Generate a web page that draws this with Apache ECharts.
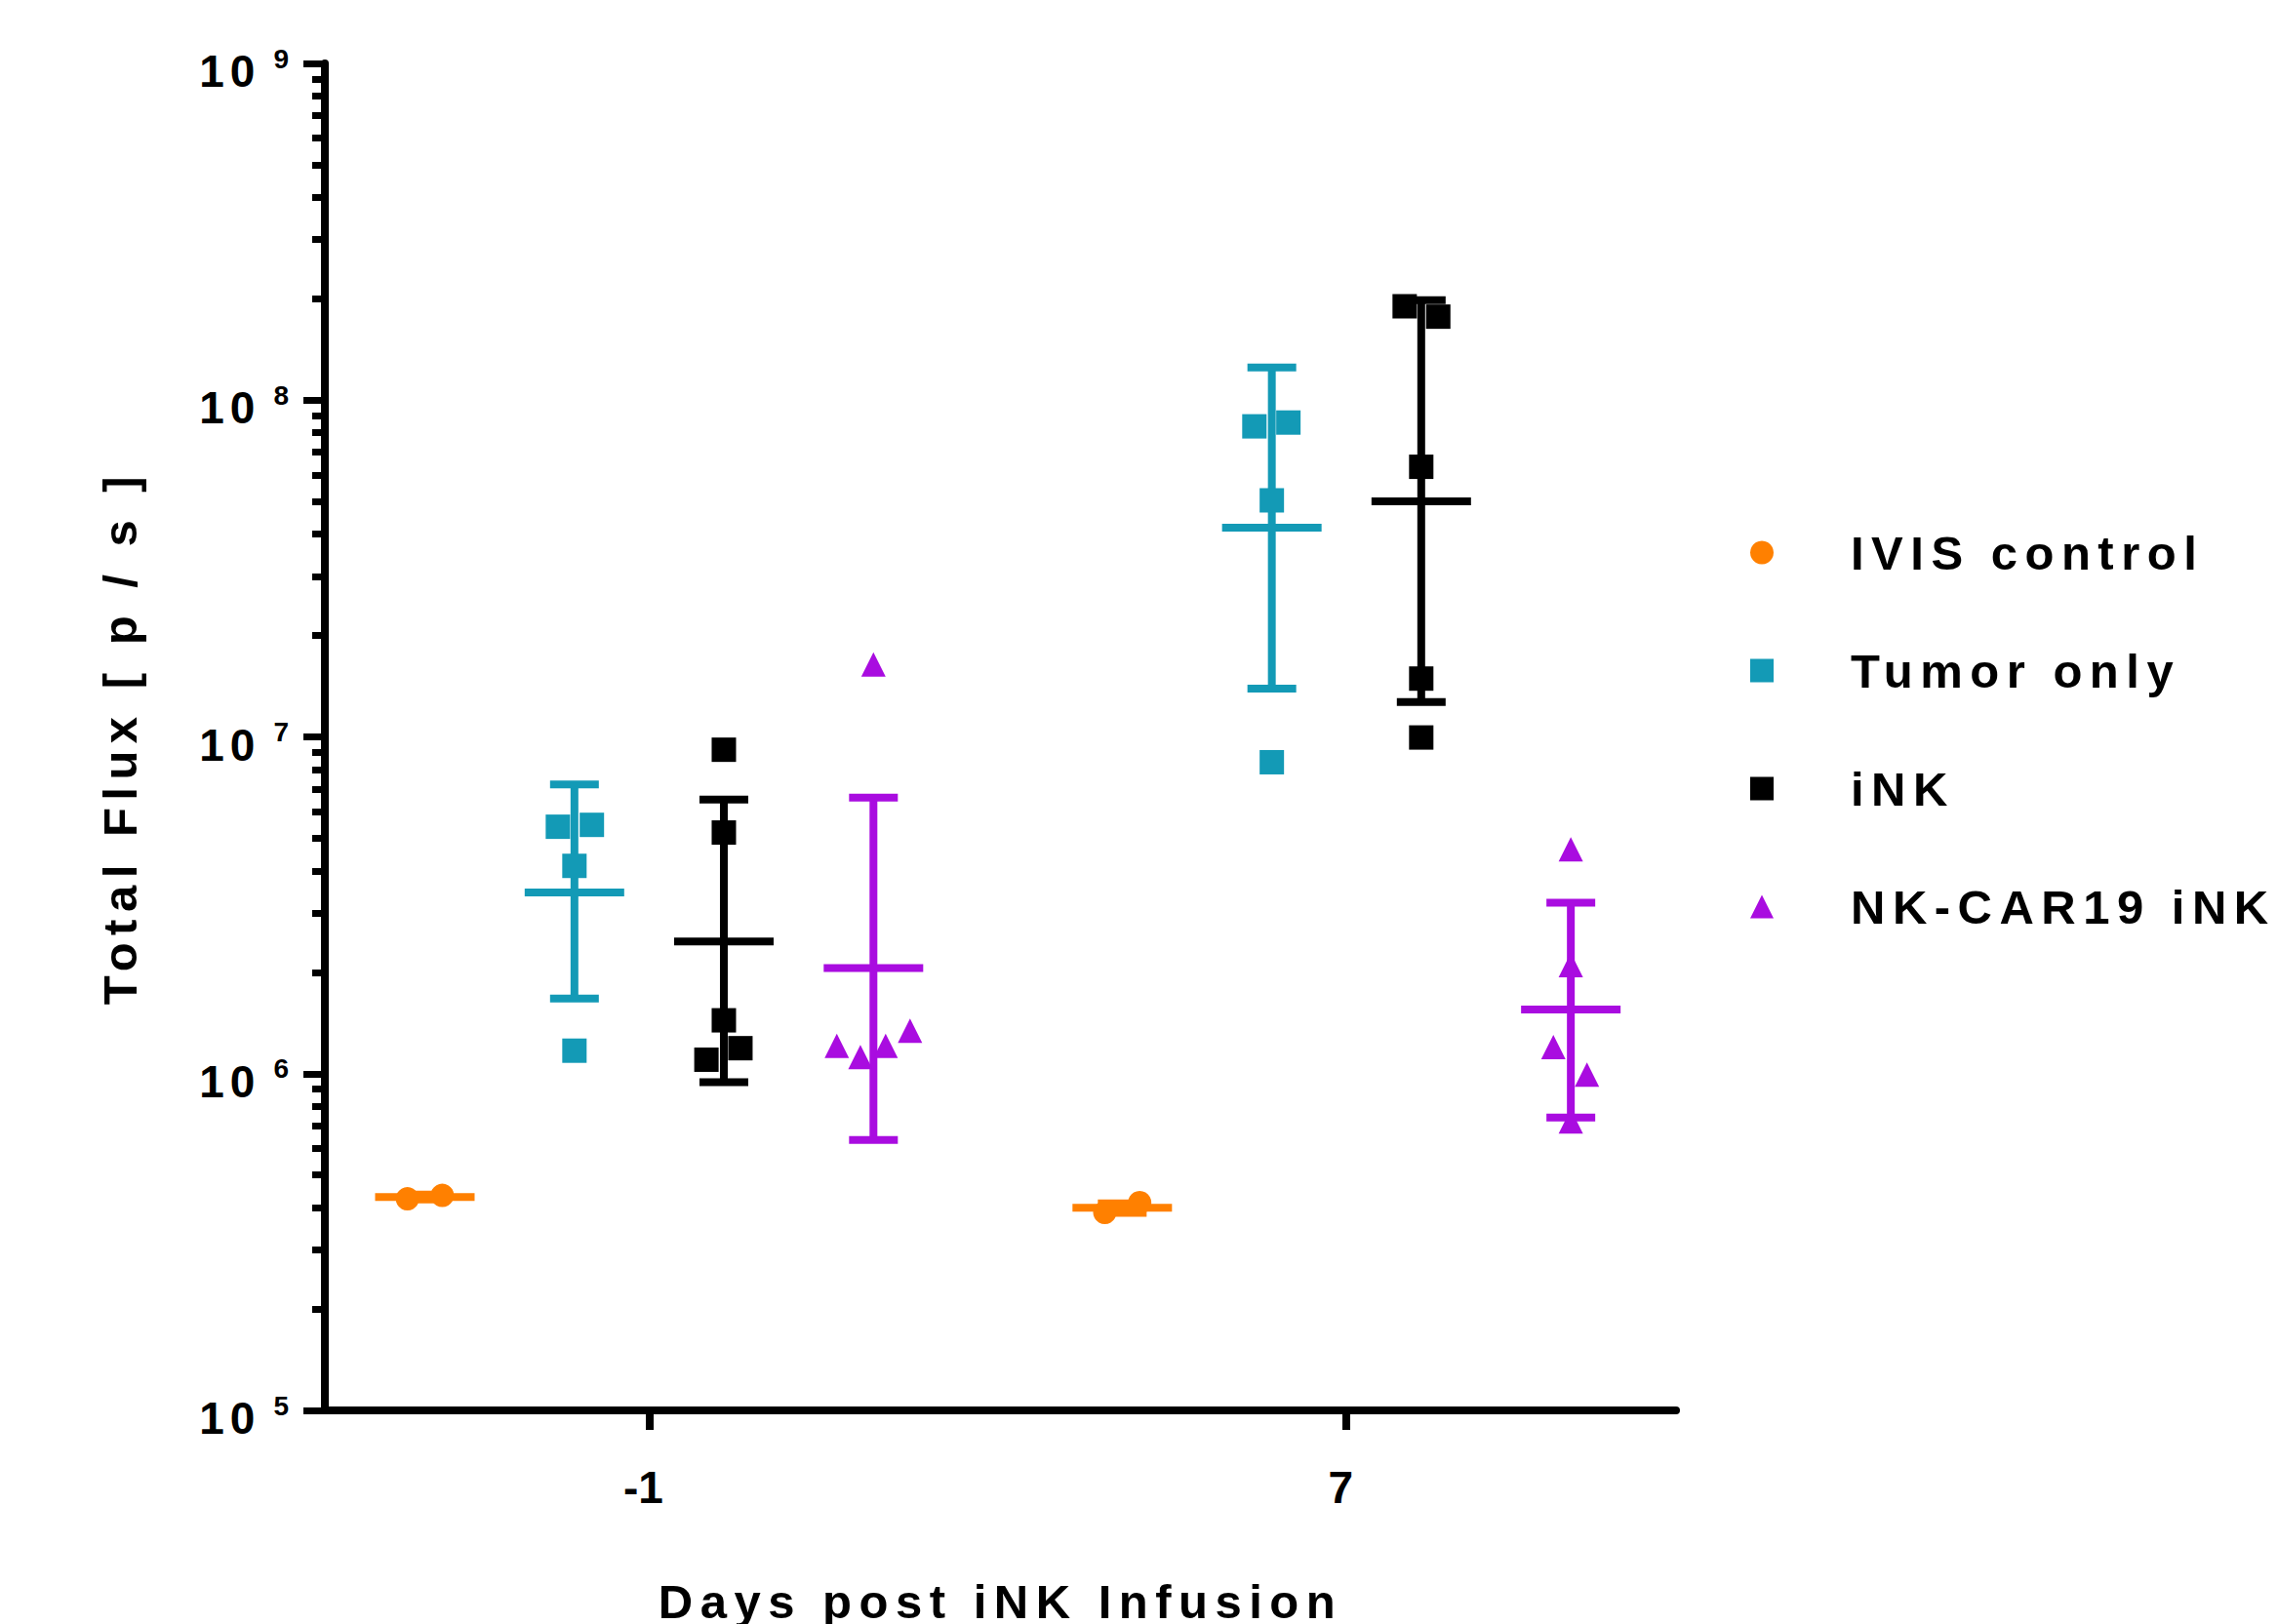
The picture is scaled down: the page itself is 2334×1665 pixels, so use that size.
<!DOCTYPE html>
<html>
<head>
<meta charset="utf-8">
<title>Total Flux</title>
<script src="https://cdn.jsdelivr.net/npm/echarts@6.0.0/dist/echarts.min.js"></script>
<style>
html, body { margin: 0; padding: 0; background: #fff; }
#main { width: 2334px; height: 1665px; }
/* the figure uses very wide letter spacing for titles and legend */
#main text[style*="49px"] { letter-spacing: 7.5px; }
</style>
</head>
<body>
<div id="main"></div>
<script>
var FONT = 'Liberation Sans, Arial, sans-serif';

/// x axis: days, y axis: decades
var days = [-1, 7];
var majorTicks = [1e5, 1e6, 1e7, 1e8, 1e9];
var minorSteps = [2, 3, 4, 5, 6, 7, 8, 9];

var groupNames = ['IVIS control', 'Tumor only', 'iNK', 'NK-CAR19 iNK'];
var groupColors = ['#FF8000', '#139AB6', '#000000', '#A90CE0'];
var groupSymbols = ['circle', 'rect', 'rect', 'triangle'];
var groupSizes = [24, 25, 25, 25];
var groupOffsets = [-2.573, -0.857, 0.857, 2.573];   // column offset inside a day

/// IVIS control
var ivisM1 = [4.25e5, 4.35e5];
var ivisM1Jit = [-0.2, 0.2];
var ivis7 = [3.87e5, 4.14e5];
var ivis7Jit = [-0.2, 0.2];
var ivisBars = [[4.30e5, 4.23e5, 4.37e5], [4.00e5, 3.86e5, 4.12e5]];   // mean, low, high

/// Tumor only
var tumorM1 = [5.41e6, 5.48e6, 4.14e6, 1.17e6];
var tumorM1Jit = [-0.19, 0.2, 0, 0];
var tumor7 = [8.36e7, 8.58e7, 5.04e7, 8.41e6];
var tumor7Jit = [-0.2, 0.19, 0, 0];
var tumorBars = [[3.45e6, 1.67e6, 7.23e6], [4.18e7, 1.39e7, 1.25e8]];

/// iNK
var inkM1 = [9.16e6, 5.2e6, 1.44e6, 1.10e6, 1.19e6];
var inkM1Jit = [0, 0, 0, -0.2, 0.19];
var ink7 = [1.90e8, 1.77e8, 6.34e7, 1.49e7, 9.96e6];
var ink7Jit = [-0.19, 0.195, 0, 0, 0];
var inkBars = [[2.47e6, 9.44e5, 6.52e6], [5.01e7, 1.27e7, 1.98e8]];

/// NK-CAR19 iNK
var carM1 = [1.64e7, 1.21e6, 1.12e6, 1.21e6, 1.34e6];
var carM1Jit = [0, -0.42, -0.15, 0.14, 0.42];
var car7 = [4.64e6, 2.10e6, 1.20e6, 9.93e5, 7.21e5];
var car7Jit = [0, 0, -0.2, 0.185, 0];
var carBars = [[2.06e6, 6.35e5, 6.6e6], [1.55e6, 7.41e5, 3.22e6]];

var groupVals = [[ivisM1, ivis7], [tumorM1, tumor7], [inkM1, ink7], [carM1, car7]];
var groupJit = [[ivisM1Jit, ivis7Jit], [tumorM1Jit, tumor7Jit], [inkM1Jit, ink7Jit], [carM1Jit, car7Jit]];
var groupBars = [ivisBars, tumorBars, inkBars, carBars];

var minorTicks = [];
for (var e = 0; e < majorTicks.length - 1; e++) {
	for (var s = 0; s < minorSteps.length; s++) {
		minorTicks.push(minorSteps[s] * majorTicks[e]);
	}
}

function buildPoints(g) {
	var out = [];
	for (var d = 0; d < days.length; d++) {
		var vals = groupVals[g][d], jit = groupJit[g][d];
		for (var i = 0; i < vals.length; i++) {
			out.push([days[d] + groupOffsets[g] + jit[i], vals[i]]);
		}
	}
	return out;
}

function buildBars(g) {
	var out = [];
	for (var d = 0; d < days.length; d++) {
		var b = groupBars[g][d];
		out.push([days[d] + groupOffsets[g], b[0], b[1], b[2]]);
	}
	return out;
}

/// mean line + SD whiskers, drawn through the axis scales
function barRenderer(color) {
	return function (params, api) {
		var x = api.value(0);
		var c = api.coord([x, api.value(1)]);
		var lo = api.coord([x, api.value(2)]);
		var hi = api.coord([x, api.value(3)]);
		function seg(x1, y1, x2, y2) {
			return { type: 'line', shape: { x1: x1, y1: y1, x2: x2, y2: y2 },
				style: { stroke: color, lineWidth: 8, fill: null } };
		}
		return { type: 'group', children: [
			seg(lo[0], lo[1], hi[0], hi[1]),
			seg(lo[0] - 25, lo[1], lo[0] + 25, lo[1]),
			seg(hi[0] - 25, hi[1], hi[0] + 25, hi[1]),
			seg(c[0] - 51, c[1], c[0] + 51, c[1])
		] };
	};
}

var series = [];
for (var g = 0; g < groupNames.length; g++) {
	series.push({
		type: 'custom',
		name: groupNames[g] + ' bars',
		renderItem: barRenderer(groupColors[g]),
		data: buildBars(g),
		silent: true,
		z: 2
	});
}
for (var g2 = 0; g2 < groupNames.length; g2++) {
	series.push({
		type: 'scatter',
		name: groupNames[g2],
		symbol: groupSymbols[g2],
		symbolSize: groupSizes[g2],
		itemStyle: { color: groupColors[g2], opacity: 1 },
		emphasis: { disabled: true },
		silent: true,
		data: buildPoints(g2),
		z: 3
	});
}

var titleStyle = { fontSize: 49, fontWeight: 'bold', color: '#000', fontFamily: FONT, lineHeight: 49 };
var decadeStyle = { fontSize: 46, fontWeight: 'bold', color: '#000', fontFamily: FONT, lineHeight: 62, verticalAlign: 'bottom' };

var option = {
	animation: false,
	backgroundColor: '#fff',
	grid: { left: 333, top: 65, width: 1385, height: 1381, outerBoundsMode: 'none', containLabel: false },
	legend: {
		orient: 'vertical',
		left: 1789,
		top: 537,
		itemWidth: 24,
		itemHeight: 24,
		itemGap: 72,
		selectedMode: false,
		data: groupNames,
		textStyle: { fontSize: 49, fontWeight: 'bold', color: '#000', fontFamily: FONT, lineHeight: 49, padding: [0, 0, 0, 74] }
	},
	xAxis: {
		type: 'value',
		min: -4.72,
		max: 10.78,
		axisLine: { show: true, onZero: false, lineStyle: { color: '#000', width: 8 } },
		axisTick: { show: true, length: 20, customValues: days, lineStyle: { color: '#000', width: 8 } },
		axisLabel: { customValues: days, margin: 56, fontSize: 46, fontWeight: 'bold', color: '#000', fontFamily: FONT, lineHeight: 46, padding: [0, 12, 0, 0] },
		splitLine: { show: false },
		name: 'Days post iNK Infusion',
		nameLocation: 'middle',
		nameGap: 171,
		nameMoveOverlap: false,
		nameTextStyle: titleStyle
	},
	yAxis: [{
		type: 'log',
		logBase: 10,
		min: 1e5,
		max: 1e9,
		position: 'left',
		axisLine: { show: true, onZero: false, lineStyle: { color: '#000', width: 8 } },
		axisTick: { show: true, length: 22, customValues: majorTicks, lineStyle: { color: '#000', width: 7 } },
		axisLabel: {
			customValues: majorTicks,
			margin: 37,
			formatter: function (v) {
				return '{a|1}{b|0}{sup|' + Math.round(Math.log(v) / Math.LN10) + '}';
			},
			rich: {
				a: echarts.util.extend({ padding: [0, 6, 0, 0] }, decadeStyle),
				b: echarts.util.extend({ padding: [0, 19, 0, 0] }, decadeStyle),
				sup: { fontSize: 28, fontWeight: 'bold', color: '#000', fontFamily: FONT, lineHeight: 62, height: 52, verticalAlign: 'top' }
			}
		},
		splitLine: { show: false },
		name: 'Total Flux [ p / s ]',
		nameLocation: 'middle',
		nameRotate: 90,
		nameGap: 186,
		nameMoveOverlap: false,
		nameTextStyle: titleStyle
	}, {
		type: 'log',
		logBase: 10,
		min: 1e5,
		max: 1e9,
		position: 'left',
		axisLine: { show: false, onZero: false },
		axisTick: { show: true, length: 13, customValues: minorTicks, lineStyle: { color: '#000', width: 7 } },
		axisLabel: { show: false },
		splitLine: { show: false }
	}],
	series: series
};

var chart = echarts.init(document.getElementById('main'), null, { renderer: 'svg' });
chart.setOption(option);
</script>
</body>
</html>
